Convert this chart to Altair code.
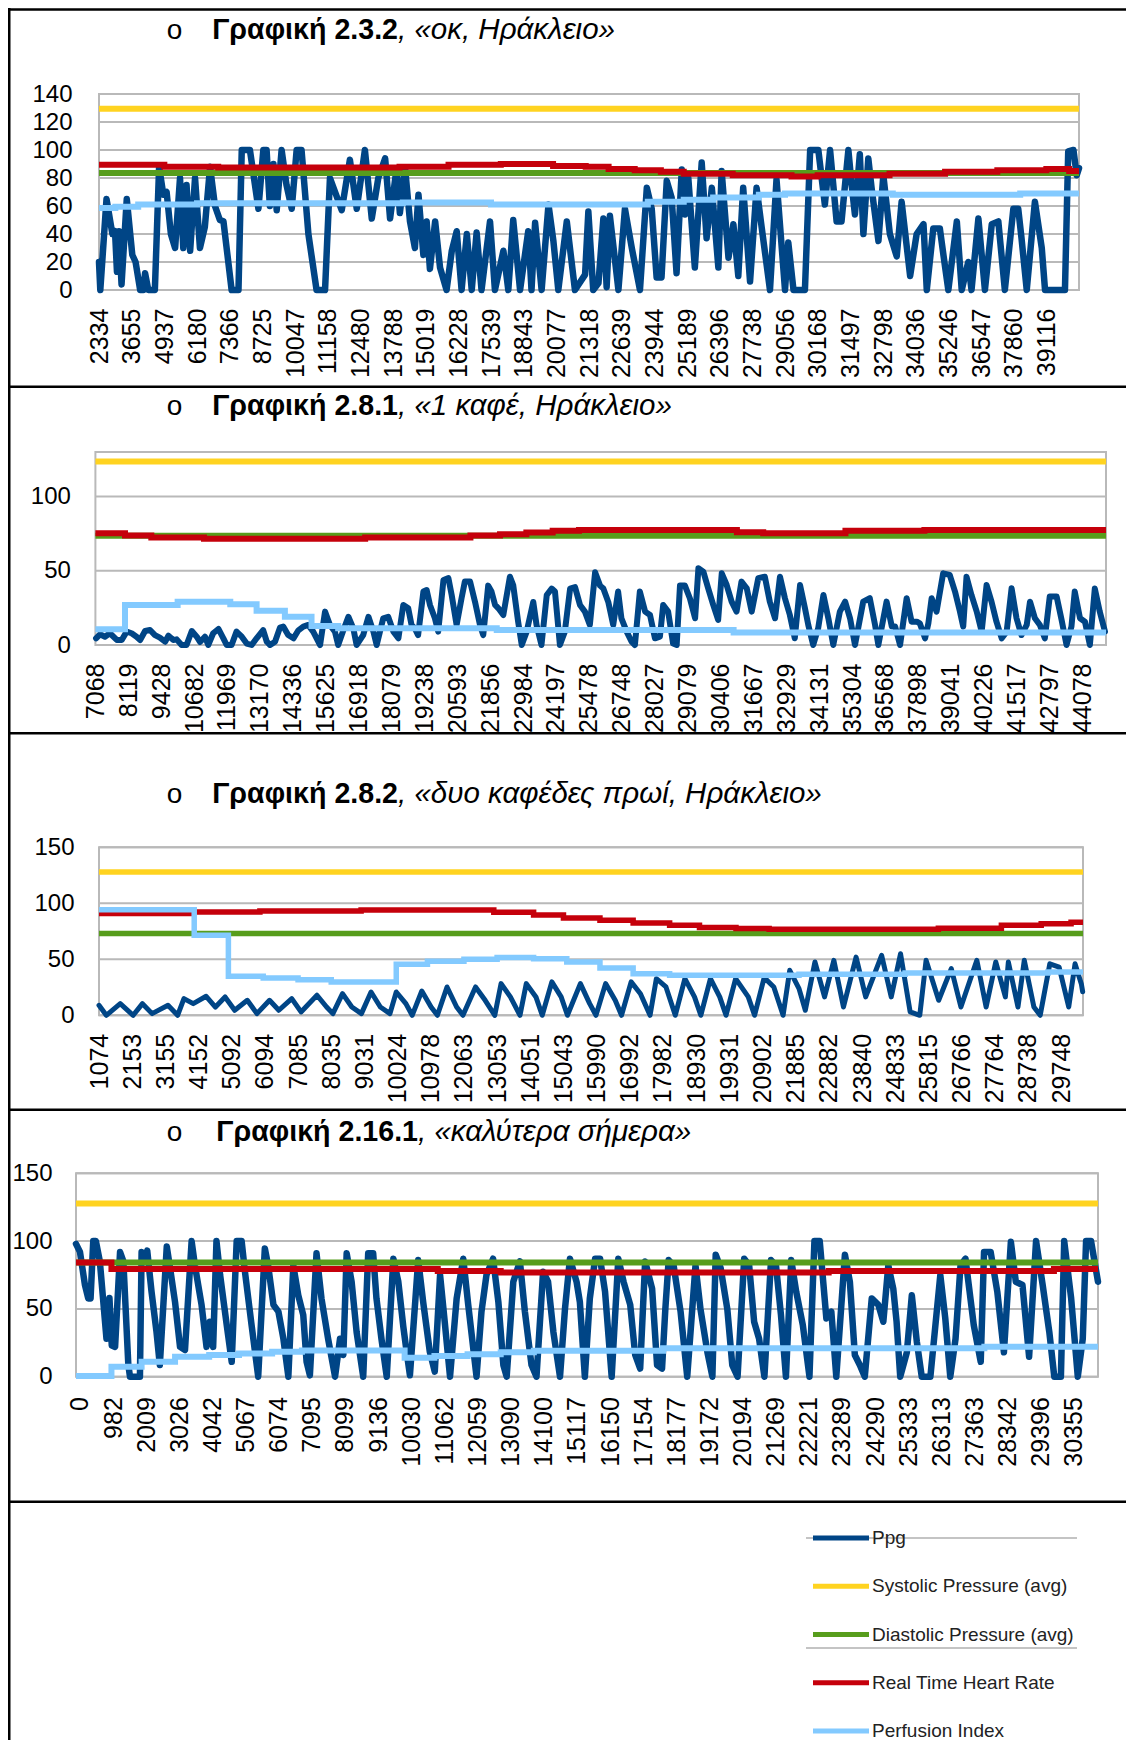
import json
import altair as alt
import pandas as pd

W, H = 1118, 1732
FONT = "Liberation Sans, Arial, sans-serif"
GRID = "#b9b9b9"

SERIES = ["Ppg", "Systolic Pressure (avg)", "Diastolic Pressure (avg)",
          "Real Time Heart Rate", "Perfusion Index"]
COLORS = ["#004586", "#ffd320", "#579d1c", "#c5000b", "#83caff"]

TITLES_BOLD = ["Γραφική 2.3.2", "Γραφική 2.8.1", "Γραφική 2.8.2", "Γραφική 2.16.1"]
TITLES_ITALIC = [", «οκ, Ηράκλειο»", ", «1 καφέ, Ηράκλειο»",
                 ", «δυο καφέδες πρωί, Ηράκλειο»", ", «καλύτερα σήμερα»"]

# ---------------- Panel 1 ----------------
P1_LABELS = ["2334", "3655", "4937", "6180", "7366", "8725", "10047", "11158", "12480", "13788",
             "15019", "16228", "17539", "18843", "20077", "21318", "22639", "23944", "25189", "26396",
             "27738", "29056", "30168", "31497", "32798", "34036", "35246", "36547", "37860", "39116"]
P1_XDOM = [0, 30]
P1_YDOM = [0, 140]
P1_YTICKS = [0, 20, 40, 60, 80, 100, 120, 140]
P1_SYS = 129.5
P1_DIA = 83.6
P1_HR = [(0, 89.5), (2.0, 88), (3.65, 87.5), (9.2, 88), (10.7, 89.5), (12.3, 90), (13.9, 88.5),
         (14.9, 88), (15.6, 86.5), (16.4, 85.5), (17.2, 84.5), (17.9, 83), (19.4, 82), (21.2, 81),
         (22.0, 82), (24.2, 83), (25.9, 84.5), (27.5, 85.5), (29.0, 86.5), (29.7, 85), (30, 85)]
P1_PI = [(0, 58.5), (0.5, 59.5), (1.2, 61), (3, 62), (9.3, 62.5), (12, 61), (16.8, 63), (17.9, 64.5),
         (18.8, 66), (20.2, 68), (21, 69), (24.3, 68), (28.2, 69), (30, 69)]
P1_PPG = [(0.00, 20), (0.04, 0), (0.23, 65), (0.41, 40), (0.49, 42), (0.55, 13), (0.61, 42), (0.69, 4),
          (0.85, 65), (1.02, 25), (1.12, 20), (1.26, 0), (1.36, 0), (1.41, 12), (1.51, 0), (1.71, 0),
          (1.84, 88), (1.97, 68), (2.07, 70), (2.20, 40), (2.33, 30), (2.48, 80), (2.58, 30), (2.68, 75),
          (2.79, 28), (2.94, 80), (3.09, 30), (3.24, 45), (3.40, 88), (3.55, 60), (3.70, 50), (3.81, 49),
          (4.06, 0), (4.27, 0), (4.37, 100), (4.62, 100), (4.88, 58), (5.03, 100), (5.13, 100), (5.23, 60),
          (5.34, 90), (5.44, 57), (5.59, 100), (5.74, 75), (5.90, 58), (6.05, 100), (6.20, 100), (6.41, 40),
          (6.66, 0), (6.92, 0), (7.07, 80), (7.43, 57), (7.68, 93), (7.89, 58), (8.14, 100), (8.35, 51),
          (8.55, 80), (8.76, 94), (8.91, 51), (9.11, 87), (9.21, 55), (9.37, 87), (9.52, 49), (9.67, 30),
          (9.78, 68), (9.93, 25), (10.03, 49), (10.13, 15), (10.29, 49), (10.44, 16), (10.64, 0), (10.80, 28),
          (10.95, 42), (11.10, 0), (11.26, 40), (11.41, 0), (11.56, 41), (11.71, 0), (11.97, 49), (12.12, 0),
          (12.38, 28), (12.53, 0), (12.68, 50), (12.89, 0), (13.14, 42), (13.24, 0), (13.35, 48), (13.55, 0),
          (13.76, 61), (13.91, 35), (14.06, 0), (14.32, 49), (14.57, 0), (14.88, 11), (14.98, 56),
          (15.13, 0), (15.29, 5), (15.44, 51), (15.54, 2), (15.64, 53), (15.90, 0), (16.10, 58), (16.31, 30),
          (16.56, 0), (16.77, 73), (16.92, 58), (17.07, 9), (17.22, 9), (17.38, 78), (17.53, 66), (17.68, 12),
          (17.84, 86), (17.94, 54), (18.04, 80), (18.24, 16), (18.45, 91), (18.60, 37), (18.76, 73), (18.96, 16),
          (19.06, 85), (19.27, 23), (19.42, 47), (19.57, 10), (19.72, 73), (19.93, 6), (20.13, 73), (20.29, 44),
          (20.54, 0), (20.74, 79), (21.00, 0), (21.10, 34), (21.26, 0), (21.61, 0), (21.77, 100), (22.02, 100),
          (22.22, 61), (22.38, 100), (22.58, 49), (22.73, 49), (22.94, 100), (23.04, 75), (23.14, 54), (23.29, 97),
          (23.40, 40), (23.55, 94), (23.65, 73), (23.86, 35), (24.01, 82), (24.21, 40), (24.42, 24), (24.57, 63),
          (24.83, 10), (25.03, 40), (25.24, 47), (25.34, 0), (25.54, 44), (25.74, 44), (25.85, 25), (26.00, 0),
          (26.26, 49), (26.41, 0), (26.61, 20), (26.71, 0), (26.92, 51), (27.12, 0), (27.33, 47), (27.53, 49),
          (27.73, 0), (27.99, 58), (28.14, 58), (28.24, 37), (28.40, 0), (28.65, 63), (28.86, 30), (28.96, 0),
          (29.57, 0), (29.67, 99), (29.83, 100), (29.93, 82), (30.00, 87)]

# ---------------- Panel 2 ----------------
P2_LABELS = ["7068", "8119", "9428", "10682", "11969", "13170", "14336", "15625", "16918", "18079",
             "19238", "20593", "21856", "22984", "24197", "25478", "26748", "28027", "29079", "30406",
             "31667", "32929", "34131", "35304", "36568", "37898", "39041", "40226", "41517", "42797", "44078"]
P2_XDOM = [0, 30.72]
P2_YDOM = [0, 130]
P2_YTICKS = [0, 50, 100]
P2_SYS = 123.6
P2_DIA = 73.6
P2_HR = [(0, 75.3), (0.9, 73.7), (1.7, 72.4), (3.3, 71.5), (8.2, 72.4), (11.4, 73.7), (12.3, 74.6),
         (13.1, 75.7), (13.9, 76.9), (14.7, 77.5), (19.5, 76), (20.3, 75.3), (22.8, 76.9), (25.2, 77.5),
         (30.72, 77.5)]
P2_PI = [(0, 10.6), (0.9, 27), (2.5, 29.2), (4.1, 27.4), (4.9, 23), (5.76, 19), (6.57, 12.8),
         (7.38, 11.2), (12.2, 10.1), (19.4, 8.5), (30.72, 8.5)]
P2_PPG = [(0.02, 4.5), (0.14, 7.2), (0.29, 5.6), (0.44, 7.9), (0.65, 3.4), (0.80, 3.4), (0.95, 9), (1.10, 7.9),
          (1.25, 5.6), (1.36, 3.4), (1.51, 9.4), (1.66, 10.1), (1.81, 6.7), (1.96, 5), (2.12, 2.2), (2.22, 6.3),
          (2.37, 3.4), (2.47, 3.8), (2.62, 0), (2.77, 0), (2.93, 9.4), (3.08, 5.6), (3.18, 2), (3.33, 5.6),
          (3.43, 0), (3.58, 7.9), (3.74, 10.8), (3.89, 4.5), (3.99, 0), (4.14, 0), (4.29, 9), (4.45, 5.6),
          (4.60, 1), (4.75, 0), (4.90, 4.5), (5.10, 10), (5.21, 2.2), (5.31, 0), (5.46, 2.2), (5.61, 11.7),
          (5.71, 12.4), (5.86, 6.7), (6.02, 4.5), (6.17, 9.9), (6.32, 12.4), (6.47, 13.5), (6.62, 9), (6.83, 0),
          (6.98, 22.5), (7.13, 13.5), (7.28, 9), (7.38, 0), (7.54, 10.1), (7.69, 19), (7.84, 11.2), (7.94, 0),
          (8.14, 6.7), (8.30, 19), (8.45, 9), (8.55, 0), (8.75, 18), (8.90, 19), (9.06, 9), (9.21, 4.5),
          (9.36, 27), (9.51, 24.7), (9.61, 13.5), (9.71, 11.2), (9.81, 6.7), (9.97, 36), (10.07, 37), (10.17, 27),
          (10.32, 18), (10.42, 9), (10.58, 43.8), (10.73, 45), (10.83, 33.7), (10.98, 13.5), (11.13, 31.5),
          (11.23, 42.7), (11.39, 42.7), (11.54, 29), (11.69, 13.5), (11.79, 6.7), (11.94, 40), (12.04, 36),
          (12.15, 27), (12.25, 24.7), (12.40, 20.2), (12.60, 46), (12.70, 40.4), (12.85, 15.7), (12.96, 0),
          (13.11, 9), (13.31, 29), (13.41, 13.5), (13.56, 0), (13.72, 33.7), (13.87, 38), (13.97, 36), (14.12, 0),
          (14.27, 9), (14.43, 38), (14.58, 39), (14.73, 27), (14.88, 22.5), (15.03, 13.5), (15.19, 49), (15.34, 40),
          (15.44, 38), (15.59, 29), (15.74, 13.5), (15.89, 36), (15.99, 18), (16.15, 9), (16.30, 2.2), (16.40, 0),
          (16.55, 36), (16.71, 22.5), (16.86, 20.2), (17.01, 4.5), (17.16, 5.6), (17.26, 27), (17.41, 22.5),
          (17.56, 1), (17.67, 0), (17.77, 40), (17.92, 40), (18.07, 31.5), (18.23, 18), (18.33, 51.7), (18.48, 49.4),
          (18.63, 38), (18.78, 27), (18.93, 16.9), (19.04, 48.3), (19.19, 40.4), (19.34, 29.2), (19.49, 22.5),
          (19.64, 42.7), (19.80, 38.2), (19.95, 22.5), (20.15, 45), (20.35, 46), (20.50, 29.2), (20.66, 18),
          (20.81, 46), (20.96, 31.5), (21.11, 20.2), (21.26, 4.5), (21.42, 40.4), (21.57, 24.7), (21.67, 13.5),
          (21.82, 0), (21.97, 11.2), (22.13, 33.7), (22.28, 18), (22.43, 0), (22.63, 22.5), (22.79, 29.2),
          (22.94, 18), (23.09, 0), (23.34, 29.2), (23.54, 31.5), (23.70, 13.5), (23.80, 0), (24.05, 29.2),
          (24.21, 12.4), (24.31, 12.4), (24.46, 0), (24.66, 31.5), (24.81, 15.7), (24.97, 15.7), (25.06, 14.6),
          (25.22, 4.5), (25.32, 14.6), (25.42, 31.5), (25.57, 22.5), (25.77, 48.3), (25.97, 47.2), (26.13, 36),
          (26.28, 22.5), (26.38, 12.4), (26.48, 46), (26.63, 33.7), (26.79, 22.5), (26.94, 9), (27.09, 40.4),
          (27.24, 29.2), (27.39, 15.7), (27.55, 4.5), (27.70, 9), (27.85, 38.2), (28.00, 18), (28.15, 6.7),
          (28.31, 13.5), (28.41, 29.2), (28.56, 18), (28.71, 13.5), (28.86, 4.5), (29.01, 32.6), (29.22, 32.6),
          (29.37, 16.9), (29.52, 0), (29.67, 12.4), (29.77, 36), (29.93, 18), (30.08, 15.7), (30.23, 0),
          (30.38, 38), (30.53, 22.5), (30.69, 9)]

# ---------------- Panel 3 ----------------
P3_LABELS = ["1074", "2153", "3155", "4152", "5092", "6094", "7085", "8035", "9031", "10024",
             "10978", "12063", "13053", "14051", "15043", "15990", "16992", "17982", "18930", "19931",
             "20902", "21885", "22882", "23840", "24833", "25815", "26766", "27764", "28738", "29748"]
P3_XDOM = [0, 29.66]
P3_YDOM = [0, 150]
P3_YTICKS = [0, 50, 100, 150]
P3_SYS = 128
P3_DIA = 73
P3_HR = [(0, 90.8), (2.84, 92.3), (4.85, 93.2), (7.9, 94), (11.9, 92), (13.1, 89.6), (14.0, 86.9),
         (15.1, 84.8), (16.1, 82.4), (17.2, 80.4), (18.1, 78.3), (19.2, 77.4), (20.2, 76.8), (25.3, 77.7),
         (27.2, 80.4), (28.4, 81.8), (29.3, 83), (29.66, 83)]
P3_PI = [(0, 94.3), (2.87, 71.4), (3.9, 34.8), (4.95, 33.3), (6.0, 31.8), (7.0, 29.8), (8.96, 45.5),
         (9.9, 48.2), (11.0, 50), (12.0, 51.5), (13.1, 50.6), (14.1, 47.6), (15.1, 42.3), (16.1, 37.2),
         (17.2, 35.7), (21.1, 36.6), (24.3, 37.8), (28.6, 38.7), (29.66, 38.7)]
P3_PPG = [(0.00, 8.9), (0.22, 0), (0.64, 10.4), (1.03, 0), (1.31, 10.4), (1.60, 1.5), (2.08, 8.9), (2.37, 0),
          (2.56, 14.9), (2.84, 10.4), (3.23, 17), (3.51, 7.4), (3.80, 16.4), (4.09, 4.5), (4.47, 13.4),
          (4.76, 1.5), (5.14, 13.4), (5.42, 4.5), (5.81, 14.9), (6.09, 3), (6.57, 17.9), (6.86, 7.4), (7.05, 1.5),
          (7.34, 19.3), (7.62, 7.4), (7.91, 1.5), (8.20, 20.8), (8.48, 7.4), (8.77, 1.5), (8.96, 20.8),
          (9.25, 10.4), (9.44, 0), (9.73, 21.7), (10.01, 7.4), (10.20, 0), (10.49, 25.3), (10.78, 7.4),
          (10.97, 0), (11.35, 25.3), (11.64, 13.4), (11.93, 0), (12.12, 28.3), (12.40, 16.4), (12.69, 0),
          (12.88, 28.3), (13.17, 16.4), (13.36, 0), (13.65, 29.8), (13.93, 16.4), (14.12, 0), (14.51, 28.3),
          (14.79, 10.4), (14.98, 0), (15.27, 28.3), (15.56, 13.4), (15.75, 0), (16.04, 29.8), (16.32, 19.3),
          (16.61, 0), (16.80, 32.7), (17.09, 25.3), (17.37, 0), (17.66, 32.7), (17.95, 16.4), (18.14, 0),
          (18.43, 32.7), (18.71, 16.4), (18.90, 0), (19.19, 32.7), (19.57, 16.4), (19.76, 0), (20.05, 33.6),
          (20.34, 25.3), (20.62, 0), (20.82, 40.2), (21.10, 23.8), (21.29, 4.5), (21.58, 47.6), (21.87, 16.4),
          (22.15, 49.1), (22.44, 7.4), (22.82, 52), (23.11, 16.4), (23.59, 53.6), (23.88, 16.4), (24.16, 55),
          (24.45, 3), (24.74, 0), (24.93, 49.1), (25.31, 13.4), (25.69, 41.7), (25.98, 7.4), (26.46, 49.1),
          (26.74, 7.4), (27.03, 47.6), (27.32, 16.4), (27.41, 47.6), (27.70, 7.4), (27.89, 49.1), (28.18, 7.4),
          (28.37, 0), (28.66, 46), (28.94, 43), (29.23, 7.4), (29.42, 46), (29.61, 28), (29.65, 21)]

# ---------------- Panel 4 ----------------
P4_LABELS = ["0", "982", "2009", "3026", "4042", "5067", "6074", "7095", "8099", "9136",
             "10030", "11062", "12059", "13090", "14100", "15117", "16150", "17154", "18177", "19172",
             "20194", "21269", "22221", "23289", "24290", "25333", "26313", "27363", "28342", "29396", "30355"]
P4_XDOM = [-0.12, 30.73]
P4_YDOM = [0, 150]
P4_YTICKS = [0, 50, 100, 150]
P4_SYS = 127.8
P4_DIA = 84.3
P4_HR = [(-0.12, 84.3), (0.95, 79.4), (10.8, 77.9), (12.7, 76.9), (22.6, 77.9), (29.4, 79.4), (30.73, 79.4)]
P4_PI = [(-0.12, 0.5), (0.95, 7.4), (1.86, 11), (2.87, 14.7), (3.9, 16), (4.8, 17.2), (5.8, 18.4),
         (6.7, 19.4), (9.8, 14), (10.7, 15.2), (11.7, 16.5), (12.7, 18), (13.7, 19.2), (17.6, 20.9),
         (27.3, 22.1), (30.73, 22.1)]
P4_PPG = [(-0.12, 98), (0.00, 92), (0.15, 67.6), (0.25, 57.7), (0.32, 57.7), (0.40, 100), (0.48, 100),
          (0.60, 85), (0.80, 28), (0.89, 58), (0.96, 23), (1.06, 22), (1.21, 92), (1.31, 85), (1.46, 8.6),
          (1.51, 0), (1.81, 0), (1.86, 92), (1.96, 87), (2.03, 93), (2.16, 62.7), (2.31, 33), (2.41, 8.6),
          (2.62, 96), (2.72, 80), (2.87, 55), (3.02, 22), (3.17, 19.7), (3.37, 100), (3.47, 82), (3.67, 53),
          (3.82, 22), (3.92, 40.5), (4.02, 22), (4.12, 100), (4.23, 75), (4.43, 38), (4.58, 11), (4.73, 100),
          (4.88, 100), (4.98, 77.4), (5.18, 38), (5.38, 0), (5.58, 94.6), (5.68, 82), (5.84, 53), (5.99, 48),
          (6.14, 28), (6.29, 0), (6.44, 82), (6.59, 60), (6.74, 45.5), (6.84, 11), (6.94, 1), (7.14, 91),
          (7.29, 57.7), (7.49, 28), (7.70, 0), (7.85, 28), (7.95, 16), (8.05, 91), (8.20, 70), (8.35, 33),
          (8.55, 0), (8.70, 91), (8.85, 91), (8.95, 57.7), (9.10, 28), (9.26, 0), (9.46, 87), (9.61, 70),
          (9.76, 37), (9.86, 18.4), (9.96, 1), (10.21, 86), (10.36, 55), (10.56, 18.4), (10.71, 3.7),
          (10.87, 75), (11.02, 38), (11.17, 0), (11.37, 57.7), (11.57, 87), (11.72, 53), (11.97, 0), (12.12, 48),
          (12.27, 75), (12.47, 87), (12.63, 55), (12.78, 8.6), (12.88, 0), (13.08, 70), (13.28, 85), (13.43, 48),
          (13.63, 8.6), (13.78, 0), (13.98, 77.4), (14.13, 70), (14.29, 33), (14.49, 0), (14.64, 50), (14.79, 87),
          (14.99, 70), (15.09, 55), (15.24, 0), (15.39, 57.7), (15.55, 87), (15.70, 87), (15.85, 62.7),
          (16.05, 0), (16.25, 87), (16.41, 70), (16.61, 53), (16.76, 16), (16.91, 6), (17.06, 85), (17.27, 65),
          (17.42, 8.6), (17.57, 6), (17.67, 50), (17.77, 86), (17.92, 82), (18.13, 48), (18.33, 0), (18.58, 82),
          (18.73, 50), (18.94, 18), (19.09, 0), (19.19, 90), (19.34, 80), (19.54, 50), (19.69, 8.6), (19.85, 0),
          (20.05, 87), (20.20, 82), (20.35, 40.5), (20.50, 28), (20.66, 0), (20.86, 86), (21.01, 82),
          (21.16, 45.5), (21.31, 0), (21.47, 86), (21.62, 62.7), (21.82, 38), (22.02, 0), (22.17, 100),
          (22.33, 100), (22.53, 43), (22.68, 48), (22.83, 0), (23.09, 90), (23.24, 70), (23.39, 16), (23.54, 8.6),
          (23.69, 0), (23.90, 57.7), (24.10, 53), (24.25, 40.5), (24.40, 82), (24.55, 65), (24.65, 40.5),
          (24.76, 0), (24.96, 18), (25.11, 60), (25.26, 26), (25.41, 0), (25.67, 0), (25.97, 75), (26.12, 43),
          (26.27, 0), (26.43, 28), (26.58, 82), (26.73, 87), (26.98, 38), (27.19, 11), (27.29, 92), (27.49, 92),
          (27.69, 62.7), (27.89, 18), (28.10, 99.5), (28.25, 70), (28.45, 67.6), (28.65, 14.7), (28.86, 100),
          (29.06, 67.6), (29.26, 33), (29.41, 0), (29.61, 0), (29.71, 100), (29.92, 57.7), (30.12, 0),
          (30.27, 28), (30.37, 100), (30.52, 100), (30.73, 70)]

PANELS = [
    dict(labels=P1_LABELS, xdom=P1_XDOM, ydom=P1_YDOM, yticks=P1_YTICKS, sys=P1_SYS, dia=P1_DIA,
         hr=P1_HR, pi=P1_PI, ppg=P1_PPG),
    dict(labels=P2_LABELS, xdom=P2_XDOM, ydom=P2_YDOM, yticks=P2_YTICKS, sys=P2_SYS, dia=P2_DIA,
         hr=P2_HR, pi=P2_PI, ppg=P2_PPG),
    dict(labels=P3_LABELS, xdom=P3_XDOM, ydom=P3_YDOM, yticks=P3_YTICKS, sys=P3_SYS, dia=P3_DIA,
         hr=P3_HR, pi=P3_PI, ppg=P3_PPG),
    dict(labels=P4_LABELS, xdom=P4_XDOM, ydom=P4_YDOM, yticks=P4_YTICKS, sys=P4_SYS, dia=P4_DIA,
         hr=P4_HR, pi=P4_PI, ppg=P4_PPG),
]

# layout (pixels in the view): plot-area ranges, label paddings, stroke widths, title placement
LAYOUT = [
    dict(xr=[91, 1071], yr=[282, 86], xpad=18, ypad=27, ppg_w=6.5, w=6, ty=31, tjoin=390),
    dict(xr=[87.4, 1098], yr=[637, 444], xpad=18, ypad=25, ppg_w=6, w=6, ty=407, tjoin=390),
    dict(xr=[91, 1075], yr=[1007.3, 839.3], xpad=18, ypad=25, ppg_w=5, w=5.5, ty=795, tjoin=390),
    dict(xr=[68, 1090], yr=[1368.7, 1165.3], xpad=20, ypad=24, ppg_w=6.5, w=6, ty=1132.5, tjoin=410),
]

color = alt.Color("series:N", scale=alt.Scale(domain=SERIES, range=COLORS), legend=None)


def make_panel(d, lay):
    xs = alt.Scale(domain=d["xdom"], range=lay["xr"], nice=False, zero=False)
    ys = alt.Scale(domain=d["ydom"], range=lay["yr"], nice=False, zero=False)
    xaxis = alt.Axis(orient="bottom", offset=lay["yr"][0] - H, values=list(range(len(d["labels"]))),
                     labelExpr=json.dumps(d["labels"]) + "[datum.value]", labelAngle=270,
                     labelPadding=lay["xpad"], labelFontSize=25, labelFont=FONT, labelColor="#000000",
                     domain=False, ticks=False, grid=False, labelOverlap=False, labelFlush=False,
                     title=None)
    yaxis = alt.Axis(orient="left", offset=-lay["xr"][0], values=d["yticks"], format="d",
                     labelPadding=lay["ypad"], labelFontSize=24, labelFont=FONT, labelColor="#000000",
                     domain=False, ticks=False, grid=False, labelOverlap=False, labelFlush=False,
                     title=None)

    def X(f):
        return alt.X(f, type="quantitative", scale=xs, axis=xaxis)

    def Y(f):
        return alt.Y(f, type="quantitative", scale=ys, axis=yaxis)

    grid_df = pd.DataFrame({"tick": d["yticks"], "x0": d["xdom"][0], "x1": d["xdom"][1]})
    grid = alt.Chart(grid_df).mark_rule(color=GRID, strokeWidth=2).encode(
        x=X("x0"), x2="x1", y=Y("tick"))
    frame_df = pd.DataFrame({"x0": [d["xdom"][0]], "x1": [d["xdom"][1]],
                             "y0": [d["ydom"][0]], "y1": [d["ydom"][1]]})
    frame = alt.Chart(frame_df).mark_rect(fillOpacity=0, stroke=GRID, strokeWidth=2).encode(
        x=X("x0"), x2="x1", y=Y("y0"), y2="y1")

    ppg_df = pd.DataFrame(d["ppg"], columns=["x", "y"]).assign(series=SERIES[0])
    layers = [grid, frame,
              alt.Chart(ppg_df).mark_line(strokeWidth=lay["ppg_w"], strokeJoin="round",
                                          strokeCap="round").encode(x=X("x"), y=Y("y"), color=color)]
    sys_df = pd.DataFrame({"x": d["xdom"], "y": [d["sys"], d["sys"]], "series": SERIES[1]})
    dia_df = pd.DataFrame({"x": d["xdom"], "y": [d["dia"], d["dia"]], "series": SERIES[2]})
    hr_df = pd.DataFrame(d["hr"], columns=["x", "y"]).assign(series=SERIES[3])
    pi_df = pd.DataFrame(d["pi"], columns=["x", "y"]).assign(series=SERIES[4])
    for df in (sys_df, dia_df, hr_df, pi_df):
        layers.append(alt.Chart(df).mark_line(strokeWidth=lay["w"], interpolate="step-after").encode(
            x=X("x"), y=Y("y"), color=color))
    return alt.layer(*layers)


one = pd.DataFrame({"a": [0]})
charts = [make_panel(d, lay) for d, lay in zip(PANELS, LAYOUT)]

# titles
for bold, ital, lay in zip(TITLES_BOLD, TITLES_ITALIC, LAYOUT):
    charts.append(alt.Chart(pd.DataFrame({"t": ["o"]})).mark_text(
        font=FONT, fontSize=28, align="center", baseline="alphabetic", color="#000000").encode(
        x=alt.value(166.5), y=alt.value(lay["ty"]), text="t:N"))
    charts.append(alt.Chart(pd.DataFrame({"t": [bold]})).mark_text(
        font=FONT, fontSize=28.6, fontWeight="bold", align="right", baseline="alphabetic",
        color="#000000").encode(x=alt.value(lay["tjoin"]), y=alt.value(lay["ty"]), text="t:N"))
    charts.append(alt.Chart(pd.DataFrame({"t": [ital]})).mark_text(
        font=FONT, fontSize=29.5, fontStyle="italic", align="left", baseline="alphabetic",
        color="#000000").encode(x=alt.value(lay["tjoin"]), y=alt.value(lay["ty"]), text="t:N"))

# table borders
for yy in (1.5, 378.7, 725.3, 1101.8, 1493.7):
    charts.append(alt.Chart(one).mark_rule(color="#000000", strokeWidth=2.6).encode(
        x=alt.value(0), x2=alt.value(W), y=alt.value(yy)))
charts.append(alt.Chart(one).mark_rule(color="#000000", strokeWidth=2.6).encode(
    x=alt.value(1.2), y=alt.value(0), y2=alt.value(H)))

# legend
for yy in (1530, 1640):
    charts.append(alt.Chart(one).mark_rule(color="#b0b0b0", strokeWidth=1.5).encode(
        x=alt.value(798), x2=alt.value(1069), y=alt.value(yy)))
leg_df = pd.DataFrame({"series": SERIES})
ly = alt.Y("series:N", scale=alt.Scale(type="point", domain=SERIES, range=[1530, 1723], padding=0),
           axis=None)
charts.append(alt.Chart(leg_df).mark_rule(strokeWidth=5).encode(
    x=alt.value(805), x2=alt.value(861), y=ly, color=color))
charts.append(alt.Chart(leg_df).mark_text(font=FONT, fontSize=19, align="left", baseline="middle",
                                          color="#222222").encode(
    x=alt.value(864), y=ly, text="series:N"))

chart = alt.layer(*charts).resolve_scale(x="independent", y="independent").properties(
    width=W, height=H, padding=0, autosize=alt.AutoSizeParams(type="none")
).configure_view(strokeWidth=0)

chart.save("out.html", embed_options={"renderer": "svg", "actions": False})
